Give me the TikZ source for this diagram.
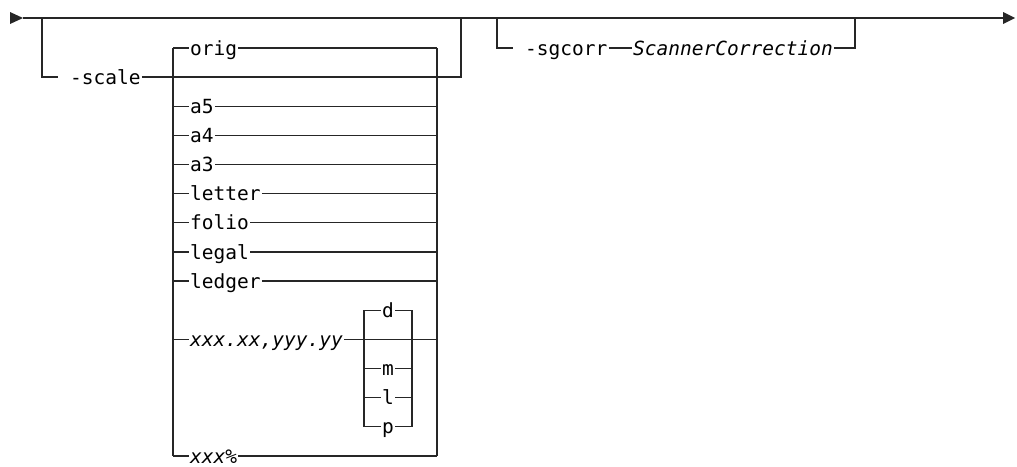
\documentclass[tikz,border=0pt]{standalone}
\usepackage{fontspec}
\setmonofont{DejaVu Sans Mono}
\begin{document}
\begin{tikzpicture}[x=1pt,y=-1pt,
  rail/.style={line width=1.3pt, draw=black!85},
  tip/.style={fill=black!85},
  lbl/.style={font=\fontsize{19.5}{21}\selectfont\ttfamily, inner xsep=1pt, inner ysep=0pt,
              text height=16pt, text depth=2pt, anchor=west},
  ilbl/.style={lbl, font=\fontsize{19.5}{21}\selectfont\ttfamily\itshape},
  clbl/.style={lbl, anchor=center}]
\useasboundingbox (0,0) rectangle (1017,466);

% main line with arrows
\coordinate (s) at (23,18);
\coordinate (e) at (1003,18);
\fill[tip] (s) -- ++(-13,-6) -- ++(0,12) -- cycle;
\fill[tip] (e) -- ++(0,-6) -- ++(12,6) -- ++(-12,6) -- cycle;
\draw[rail] (s) -- (e);

% branch 1: -scale
\coordinate (b1) at (42,18);
\coordinate (b1e) at (58,77.1);
\coordinate (b1r) at (461,18);
\node[lbl] (scale) at (69,77.1) {-scale};
\draw[rail] (b1) |- (b1e);
\draw[rail] (scale) -| (b1r);

% choice box
\coordinate (Lt) at (173,48);
\coordinate (Lb) at (173,456);
\coordinate (Rt) at (437,48);
\coordinate (Rb) at (437,456);
\draw[rail] (Lt) -- (Lb);
\draw[rail] (Rt) -- (Rb);

\node[lbl] (orig) at (189,48) {orig};
\draw[rail] (Lt) -- (orig) -- (Rt);

\node[lbl] (a5) at (189,106.3) {a5};
\draw[rail] (173,106.3) -- (a5) -- (437,106.3);
\node[lbl] (a4) at (189,135.4) {a4};
\draw[rail] (173,135.4) -- (a4) -- (437,135.4);
\node[lbl] (a3) at (189,164.6) {a3};
\draw[rail] (173,164.6) -- (a3) -- (437,164.6);
\node[lbl] (letter) at (189,193.7) {letter};
\draw[rail] (173,193.7) -- (letter) -- (437,193.7);
\node[lbl] (folio) at (189,222.8) {folio};
\draw[rail] (173,222.8) -- (folio) -- (437,222.8);
\node[lbl] (legal) at (189,252) {legal};
\draw[rail] (173,252) -- (legal) -- (437,252);
\node[lbl] (ledger) at (189,281.1) {ledger};
\draw[rail] (173,281.1) -- (ledger) -- (437,281.1);

\node[ilbl] (xy) at (189,339.4) {xxx.xx,yyy.yy};
\draw[rail] (173,339.4) -- (xy) -- (437,339.4);

% unit choice
\draw[rail] (364,310.3) -- (364,426.8);
\draw[rail] (412,310.3) -- (412,426.8);
\node[clbl] (d) at (388,310.3) {d};
\draw[rail] (364,310.3) -- (d) -- (412,310.3);
\node[clbl] (m) at (388,368.6) {m};
\draw[rail] (364,368.6) -- (m) -- (412,368.6);
\node[clbl] (l) at (388,397.7) {l};
\draw[rail] (364,397.7) -- (l) -- (412,397.7);
\node[clbl] (p) at (388,426.8) {p};
\draw[rail] (364,426.8) -- (p) -- (412,426.8);

\node[ilbl] (pct) at (189,456) {xxx\%};
\draw[rail] (Lb) -- (pct) -- (Rb);

% branch 2: -sgcorr
\coordinate (b2) at (497,18);
\coordinate (b2e) at (513,48);
\coordinate (b2r) at (855,18);
\node[lbl] (sg) at (524,48) {-sgcorr};
\node[ilbl] (sc) at (632,48) {ScannerCorrection};
\draw[rail] (b2) |- (b2e);
\draw[rail] (sg) -- (sc);
\draw[rail] (sc) -| (b2r);
\end{tikzpicture}
\end{document}
